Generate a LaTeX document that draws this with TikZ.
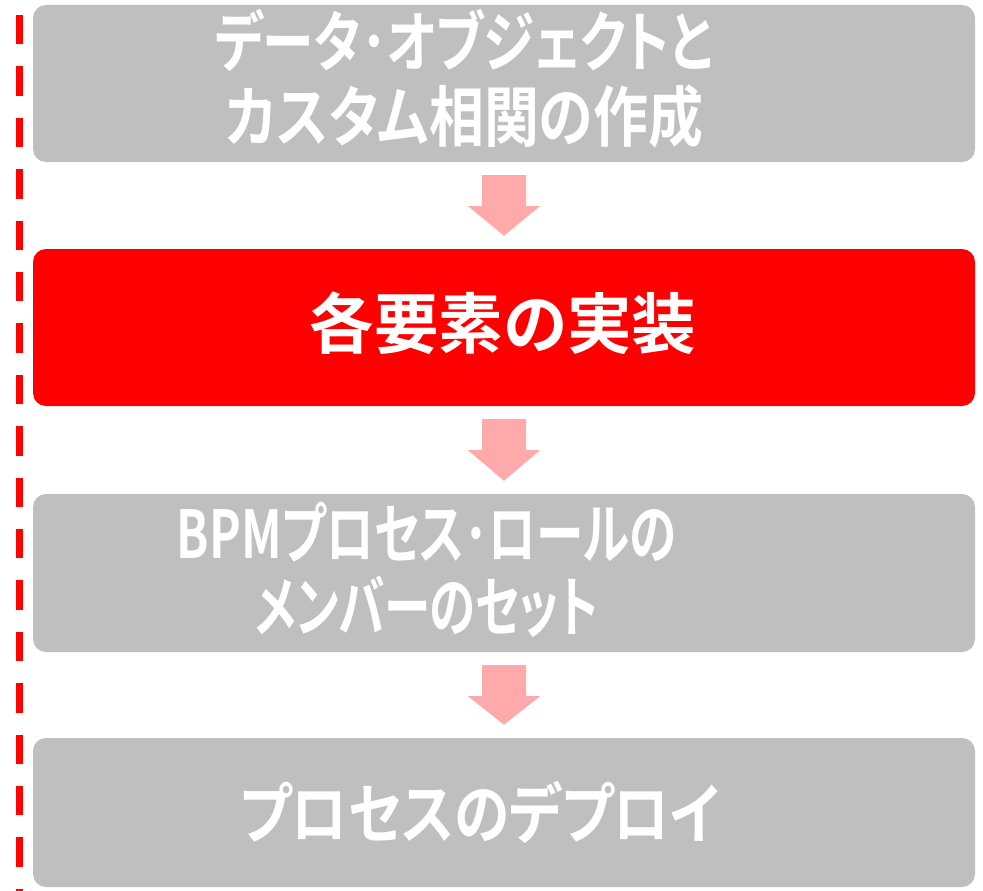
\documentclass[tikz,border=0pt]{standalone}
\usepackage{fontspec}
\usepackage{graphicx}
\newfontfamily\jpb{Noto Sans CJK JP Bold}[RawFeature=+palt]
\usetikzlibrary{calc}
\definecolor{boxgray}{HTML}{BFBFBF}
\definecolor{boxred}{HTML}{FF0000}
\definecolor{arrowpink}{HTML}{FFAAAA}
\newcommand\fitw[2]{\resizebox{#1pt}{\height}{#2}}
\begin{document}
\begin{tikzpicture}[x=1pt,y=-1pt,
  stepbox/.style={draw=none,rounded corners=13pt,minimum width=942pt,inner sep=0pt},
  graybox/.style={stepbox,fill=boxgray},
  redbox/.style={stepbox,fill=boxred},
  txt/.style={inner sep=0pt,text=white,font=\jpb\fontsize{66}{76}\selectfont},
  flowarrow/.style={fill=arrowpink,draw=none}]
\useasboundingbox (0,0) rectangle (983,891);
% boxes
\node[graybox,minimum height=157pt] (b1) at (504,83.5) {};
\node[redbox,minimum height=157pt] (b2) at (504,327.5) {};
\node[graybox,minimum height=158pt] (b3) at (504,573) {};
\node[graybox,minimum height=149pt] (b4) at (504,812.5) {};
% texts
\node[txt] (t1a) at (464,40) {\fitw{498}{データ･オブジェクトと}};
\node[txt] (t1b) at (464.5,117) {\fitw{477}{カスタム相関の作成}};
\node[txt] (t2) at (503,323) {\fitw{386}{各要素の実装}};
\node[txt] (t3a) at (426.5,532) {\fitw{499}{BPMプロセス･ロールの}};
\node[txt] (t3b) at (426.5,607) {\fitw{343}{メンバーのセット}};
\node[txt] (t4) at (480,812) {\fitw{480}{プロセスのデプロイ}};
% block arrows
\foreach \a/\b in {b1/b2,b2/b3,b3/b4}{
  \fill[flowarrow] ($(\a.south)+(-22,13)$) -- ($(\a.south)+(22,13)$)
    -- ($(\a.south)+(22,44)$) -- ($(\a.south)+(36,44)$)
    -- ($(\b.north)+(0,-13)$)
    -- ($(\a.south)+(-36,44)$) -- ($(\a.south)+(-22,44)$) -- cycle;
}
% dashed line
\coordinate (dtop) at (19,15);
\coordinate (dbot) at (19,895);
\draw[boxred,line width=7pt,dash pattern=on 29.4pt off 22pt] (dtop) -- (dbot);
\end{tikzpicture}
\end{document}
